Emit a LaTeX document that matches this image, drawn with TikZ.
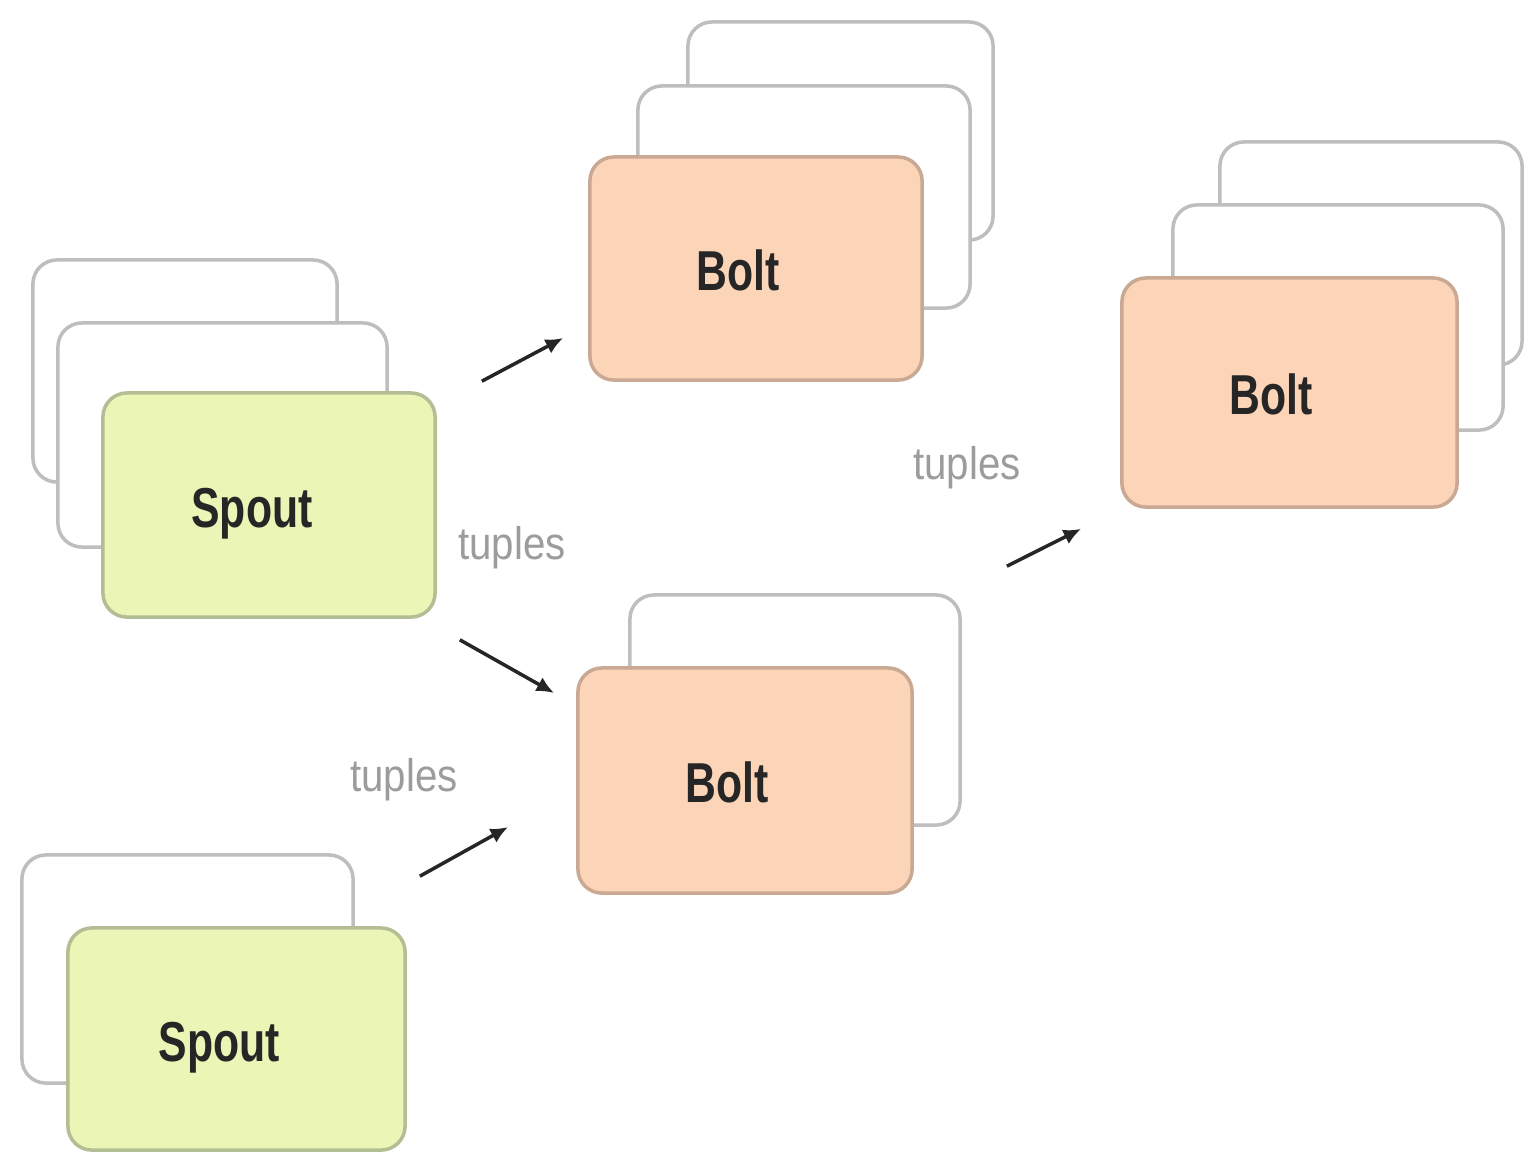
\documentclass[tikz,border=0pt]{standalone}
\usepackage{fontspec}
\setmainfont{Liberation Sans}
\newfontfamily\cardfont[FakeStretch=0.76]{Liberation Sans}
\newfontfamily\tuplefont[FakeStretch=0.88]{Liberation Sans}
\usetikzlibrary{arrows.meta}
\definecolor{spoutfill}{HTML}{EAF5B6}
\definecolor{spoutline}{HTML}{B4BE94}
\definecolor{boltfill}{HTML}{FCD4B8}
\definecolor{boltline}{HTML}{C9A993}
\definecolor{backline}{HTML}{BEBEBE}
\definecolor{tuplegray}{HTML}{9C9C9C}
\tikzset{
  cardsize/.style 2 args={minimum width=#1cm, minimum height=#2cm},
  card/.style={draw=backline, fill=white, line width=1pt, rounded corners=0.24cm, inner sep=0pt},
  cardtext/.style={text=black!85, font=\cardfont\bfseries\fontsize{16}{16}\selectfont, inner sep=0pt},
  spoutcard/.style={card, draw=spoutline, fill=spoutfill, label={[cardtext, xshift=-0.17cm, yshift=-0.09cm]center:Spout}},
  boltcard/.style={card, draw=boltline, fill=boltfill, label={[cardtext, xshift=-0.18cm, yshift=-0.02cm]center:Bolt}},
  tuples/.style={text=tuplegray, font=\tuplefont\fontsize{13}{13}\selectfont},
  flow/.style={-{Latex[length=5pt,width=4.5pt]}, line width=1pt, draw=black!85}
}
\begin{document}
\begin{tikzpicture}[x=0.01cm, y=-0.01cm]
  \useasboundingbox (0,0) rectangle (1524,1153);

  \node[card, cardsize={3.04}{2.22}] (spoutA3) at (185,371) {};
  \node[card, cardsize={3.29}{2.24}] (spoutA2) at (222.5,435) {};
  \node[spoutcard, cardsize={3.32}{2.24}] (spoutA) at (269,505) {};

  \node[card, cardsize={3.31}{2.28}] (spoutB2) at (187.5,969) {};
  \node[spoutcard, cardsize={3.37}{2.22}] (spoutB) at (236.5,1039) {};

  \node[card, cardsize={3.05}{2.18}] (boltA3) at (840.5,131) {};
  \node[card, cardsize={3.32}{2.22}] (boltA2) at (804,197) {};
  \node[boltcard, cardsize={3.32}{2.23}] (boltA) at (756,268.5) {};

  \node[card, cardsize={3.30}{2.30}] (boltB2) at (795,710) {};
  \node[boltcard, cardsize={3.34}{2.25}] (boltB) at (745,780.5) {};

  \node[card, cardsize={3.02}{2.23}] (boltC3) at (1371,253.5) {};
  \node[card, cardsize={3.30}{2.25}] (boltC2) at (1338,317.5) {};
  \node[boltcard, cardsize={3.35}{2.29}] (boltC) at (1289.5,392.5) {};

  \coordinate (outA) at ([shift={(45,-10)}]spoutA.north east);
  \coordinate (inA) at ([shift={(-25,69.5)}]boltA.west);
  \coordinate (outB) at ([shift={(23,21)}]spoutA.south east);
  \coordinate (inB) at ([shift={(-22,-87.5)}]boltB.west);
  \coordinate (outC) at ([shift={(13,-50)}]spoutB.north east);
  \coordinate (inC) at ([shift={(-68,46.5)}]boltB.west);
  \coordinate (outD) at ([shift={(93,-100)}]boltB.north east);
  \coordinate (inD) at ([shift={(-39,20)}]boltC.south west);

  \draw[flow] (outA) -- (inA);
  \draw[flow] (outB) -- (inB);
  \draw[flow] (outC) -- (inC);
  \draw[flow] (outD) -- (inD);

  \node[tuples] (tuplesA) at (512,548) {tuples};
  \node[tuples] (tuplesB) at (967,468) {tuples};
  \node[tuples] (tuplesC) at (404,780) {tuples};
\end{tikzpicture}
\end{document}
